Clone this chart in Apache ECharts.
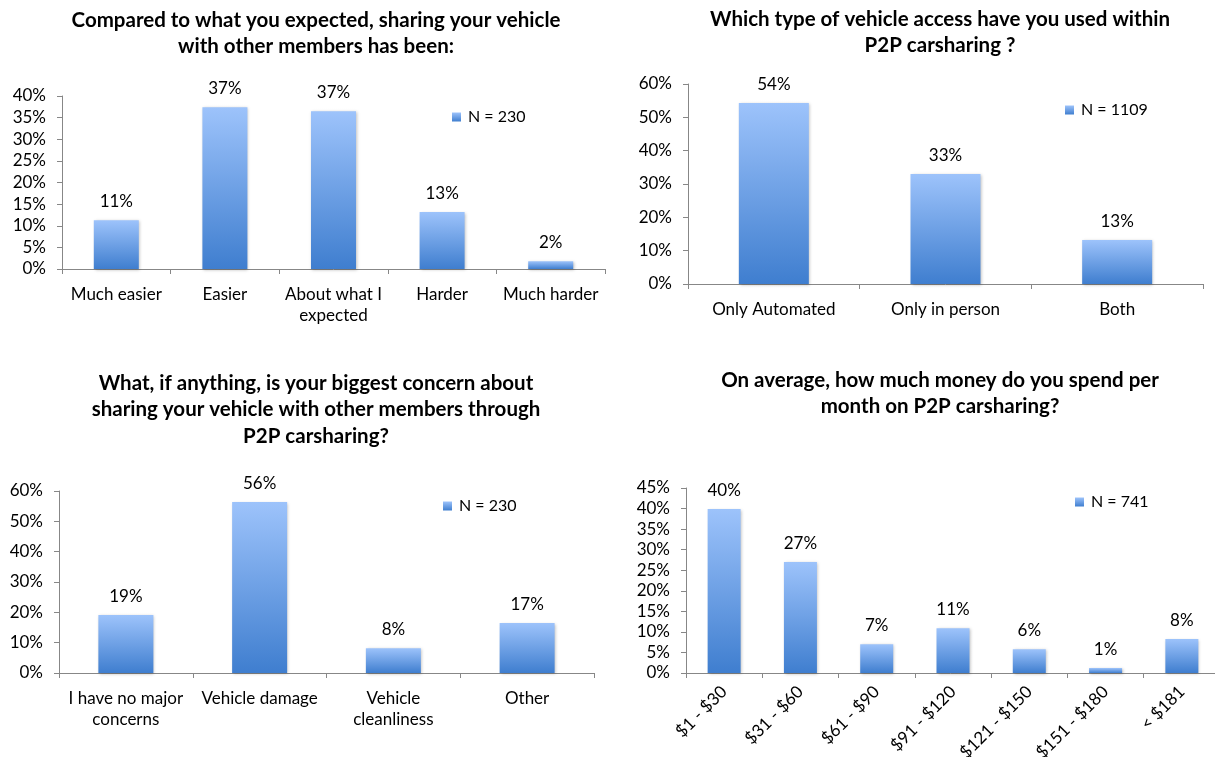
<!DOCTYPE html>
<html>
<head>
<meta charset="utf-8">
<script src="https://cdn.jsdelivr.net/npm/echarts@6/dist/echarts.min.js"></script>
<style>
html,body{margin:0;padding:0;background:#fff;}
#c{width:1215px;height:757px;}
</style>
</head>
<body>
<div id="c"></div>
<script>
// ---- Data ----
const title1 = "Compared to what you expected, sharing your vehicle\nwith other members has been:";
const cats1 = ["Much easier", "Easier", "About what I\nexpected", "Harder", "Much harder"];
const vals1 = [11.3, 37.4, 36.5, 13.2, 1.8];
const name1 = "N = 230";

const title2 = "Which type of vehicle access have you used within\nP2P carsharing ?";
const cats2 = ["Only Automated", "Only in person", "Both"];
const vals2 = [54.3, 33.0, 13.2];
const name2 = "N = 1109";

const title3 = "What, if anything, is your biggest concern about\nsharing your vehicle with other members through\nP2P carsharing?";
const cats3 = ["I have no major\nconcerns", "Vehicle damage", "Vehicle\ncleanliness", "Other"];
const vals3 = [19.1, 56.4, 8.2, 16.5];
const name3 = "N = 230";

const title4 = "On average, how much money do you spend per\nmonth on P2P carsharing?";
const cats4 = ["$1 - $30", "$31 - $60", "$61 - $90", "$91 - $120", "$121 - $150", "$151 - $180", "< $181"];
const vals4 = [39.9, 27.0, 7.0, 10.9, 5.8, 1.2, 8.3];
const name4 = "N = 741";

const yMax = [40, 60, 60, 45];
const yStep = [5, 10, 10, 5];

// ---- Styles ----
const FONT = "Lato";
const grad = new echarts.graphic.LinearGradient(0, 0, 0, 1, [
  {offset: 0, color: "#9DC3FB"},
  {offset: 1, color: "#3F7ECF"}
]);

const grids = [
  {left: 62, top: 96, width: 543, height: 173},
  {left: 688, top: 84, width: 515, height: 200},
  {left: 59, top: 491, width: 535, height: 182},
  {left: 686, top: 488, width: 534, height: 185}
].map(g => Object.assign(g, {containLabel: false, outerBoundsMode: "none"}));
const barW = [45, 70, 55, 33];
const titlePos = [
  {left: 316, top: 7},
  {left: 940, top: 6},
  {left: 316, top: 370},
  {left: 940, top: 367}
];
const legendPos = [
  {left: 447, top: 104},
  {left: 1060, top: 97},
  {left: 438, top: 493},
  {left: 1070, top: 489}
];

const titles = [title1, title2, title3, title4];
const cats = [cats1, cats2, cats3, cats4];
const vals = [vals1, vals2, vals3, vals4];
const names = [name1, name2, name3, name4];

const axisLineStyle = {color: "#878787", width: 1};
const FS = 17;

const option = {
  backgroundColor: "#fff",
  animation: false,
  textStyle: {fontFamily: FONT},
  title: titles.map((t, i) => ({
    text: t,
    left: titlePos[i].left,
    top: titlePos[i].top,
    padding: 0,
    textAlign: "center",
    textStyle: {fontFamily: FONT, fontWeight: "bold", fontSize: 20.5, color: "#000", lineHeight: 26.5}
  })),
  legend: names.map((n, i) => ({
    data: [{name: n, itemStyle: {color: grad}}],
    left: legendPos[i].left,
    top: legendPos[i].top,
    itemWidth: 9,
    itemHeight: 9,
    itemGap: 10,
    icon: "rect",
    seriesIndex: i,
    textStyle: {fontFamily: FONT, fontSize: 16, color: "#000", padding: [0, 0, 0, 2]}
  })),
  grid: grids,
  xAxis: cats.map((c, i) => ({
    type: "category",
    gridIndex: i,
    data: c,
    axisLine: {lineStyle: axisLineStyle},
    axisTick: {show: true, length: 5, lineStyle: axisLineStyle},
    axisLabel: i === 3 ? {
      interval: 0, rotate: 45, margin: 16, fontFamily: FONT, fontSize: FS, color: "#000"
    } : {
      interval: 0, margin: 15, fontFamily: FONT, fontSize: FS, color: "#000", lineHeight: 21
    }
  })),
  yAxis: yMax.map((m, i) => ({
    type: "value",
    gridIndex: i,
    min: 0,
    max: m,
    interval: yStep[i],
    splitLine: {show: false},
    axisLine: {show: true, lineStyle: axisLineStyle},
    axisTick: {show: true, length: 5, lineStyle: axisLineStyle},
    axisLabel: {formatter: "{value}%", margin: 16, fontFamily: FONT, fontSize: FS, color: "#000"}
  })),
  series: vals.map((v, i) => ({
    type: "bar",
    name: names[i],
    xAxisIndex: i,
    yAxisIndex: i,
    data: v,
    barWidth: barW[i],
    itemStyle: {color: grad, shadowColor: "rgba(0,0,0,0.25)", shadowBlur: 3, shadowOffsetX: 1, shadowOffsetY: 1},
    label: {
      show: true,
      position: "top",
      distance: 10,
      fontFamily: FONT,
      fontSize: FS,
      color: "#000",
      formatter: p => Math.round(p.value) + "%"
    }
  }))
};

const chart = echarts.init(document.getElementById("c"), null, {renderer: "canvas"});
chart.setOption(option);
</script>
</body>
</html>
